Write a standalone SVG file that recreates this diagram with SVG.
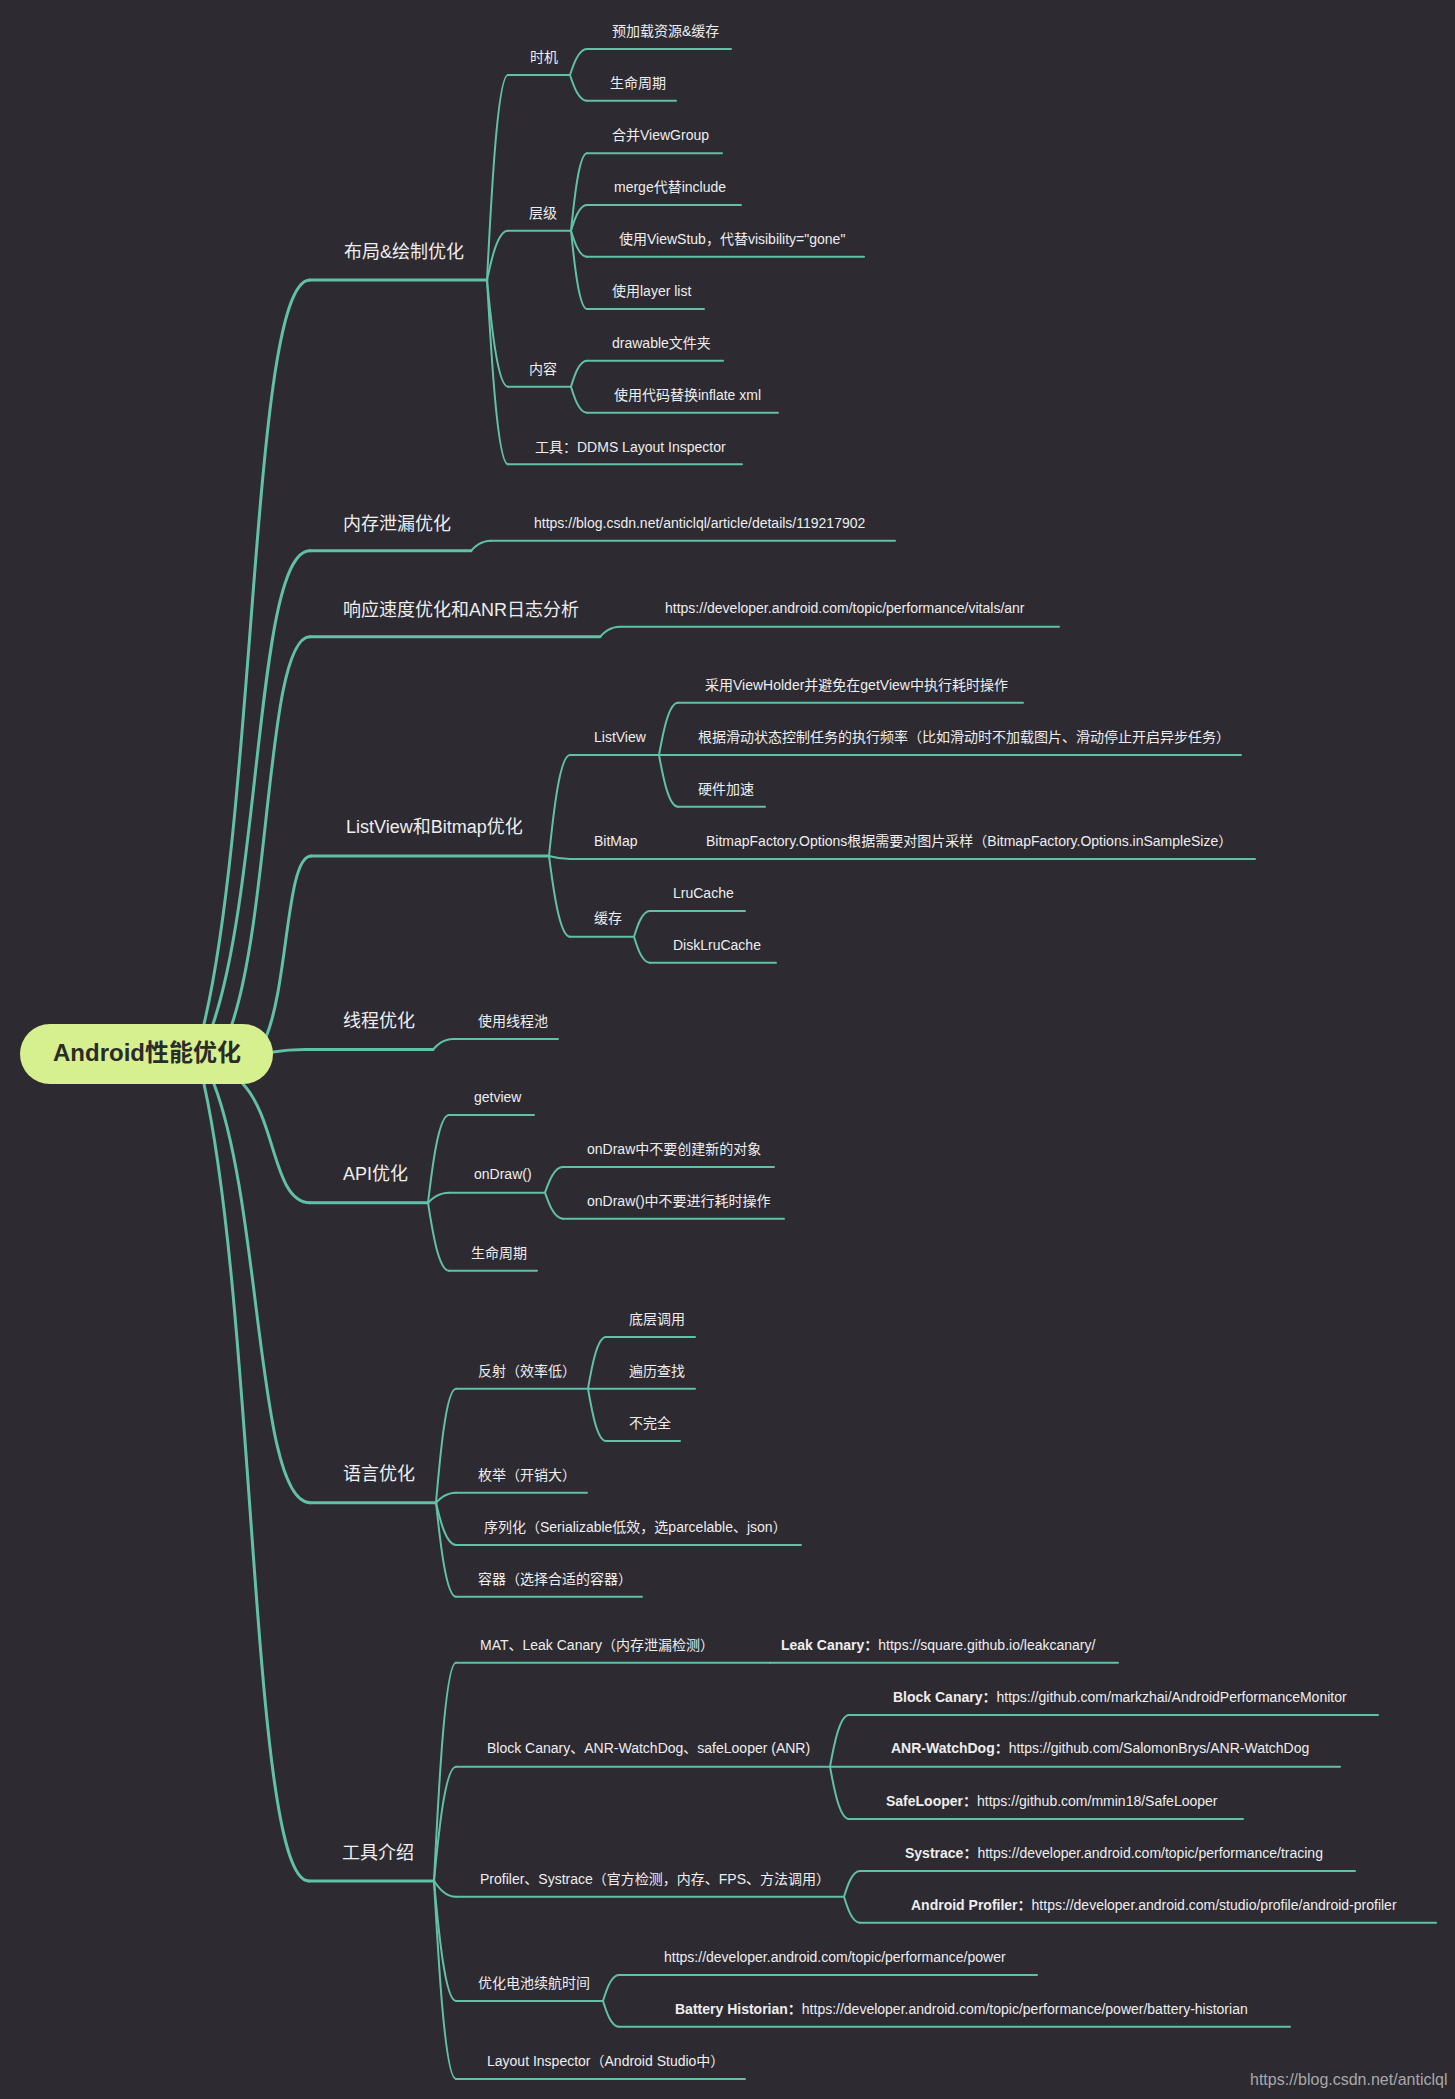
<svg xmlns="http://www.w3.org/2000/svg" width="1455" height="2099" viewBox="0 0 1455 2099">
<style>
.t{font-family:"Liberation Sans","Noto Sans CJK SC",sans-serif;font-size:14px;fill:#eeeeee}
.t1{font-size:18px}
.b{font-weight:bold}
.ln{stroke:#62c0a8;stroke-width:2;fill:none;stroke-linecap:round}
.ln1{stroke-width:3}
.wm{font-family:"Liberation Sans",sans-serif;font-size:16px;fill:#a8a8a8}
</style>
<rect x="0" y="0" width="1455" height="2099" fill="#2d2a32"/>
<g id="connectors">
<path class="ln ln1" d="M204,1024 C257,800.8 251.7,280 310,280"/>
<path class="ln ln1" d="M213,1024 C261.5,882 256.7,550.7 310,550.7"/>
<path class="ln ln1" d="M232,1024 C271,907.8 267.1,636.7 310,636.7"/>
<path class="ln ln1" d="M266,1037 C288.5,982.7 286.3,856 311,856"/>
<path class="ln ln1" d="M273,1052 C285,1050 290,1049.5 305,1049.5"/>
<path class="ln ln1" d="M243,1084 C276.5,1119.6 273.2,1202.7 310,1202.7"/>
<path class="ln ln1" d="M214,1084 C262,1209.6 257.2,1502.7 310,1502.7"/>
<path class="ln ln1" d="M204,1084 C256.5,1323.1 251.3,1881 309,1881"/>
<path class="ln" d="M487,280 C491.2,198 497.5,75 508,75"/>
<path class="ln" d="M487,280 C491.2,260.3 497.5,230.7 508,230.7"/>
<path class="ln" d="M487,280 C491.2,322.7 497.5,386.7 508,386.7"/>
<path class="ln" d="M487,280 C491.2,353.7 497.5,464.3 508,464.3"/>
<path class="ln" d="M570,75 C573.4,64.6 578.5,49 587,49"/>
<path class="ln" d="M570,75 C573.4,85.3 578.5,100.7 587,100.7"/>
<path class="ln" d="M571,230.7 C574.2,199.7 579,153.3 587,153.3"/>
<path class="ln" d="M571,230.7 C574.2,220.4 579,205 587,205"/>
<path class="ln" d="M571,230.7 C574.2,241.1 579,256.7 587,256.7"/>
<path class="ln" d="M571,230.7 C574.2,262 579,309 587,309"/>
<path class="ln" d="M571,386.7 C574.2,376.3 579,360.7 587,360.7"/>
<path class="ln" d="M571,386.7 C574.2,397.1 579,412.7 587,412.7"/>
<path class="ln" d="M471,550.7 C475,546.7 481,540.7 491,540.7"/>
<path class="ln" d="M600,636.7 C604,632.7 610,626.7 620,626.7"/>
<path class="ln" d="M549,856 C553.2,815.6 559.5,755 570,755"/>
<path class="ln" d="M549,856 C553.2,857.2 559.5,859 570,859"/>
<path class="ln" d="M549,856 C553.2,888.3 559.5,936.7 570,936.7"/>
<path class="ln" d="M659,755 C662.8,734.1 668.5,702.7 678,702.7"/>
<path class="ln" d="M659,755 C662.8,775.7 668.5,806.7 678,806.7"/>
<path class="ln" d="M634,936.7 C637.2,926.4 642,911 650,911"/>
<path class="ln" d="M634,936.7 C637.2,947.1 642,962.7 650,962.7"/>
<path class="ln" d="M433,1049.5 C437,1045.3 443,1039 453,1039"/>
<path class="ln" d="M428,1202.7 C432.2,1167.6 438.5,1115 449,1115"/>
<path class="ln" d="M428,1202.7 C432.2,1198.7 438.5,1192.7 449,1192.7"/>
<path class="ln" d="M428,1202.7 C432.2,1229.9 438.5,1270.7 449,1270.7"/>
<path class="ln" d="M545,1192.7 C548.6,1182.4 554,1167 563,1167"/>
<path class="ln" d="M545,1192.7 C548.6,1203.1 554,1218.7 563,1218.7"/>
<path class="ln" d="M436,1502.7 C440,1457.1 446,1388.7 456,1388.7"/>
<path class="ln" d="M436,1502.7 C440,1498.7 446,1492.7 456,1492.7"/>
<path class="ln" d="M436,1502.7 C440,1519.6 446,1545 456,1545"/>
<path class="ln" d="M436,1502.7 C440,1540.3 446,1596.7 456,1596.7"/>
<path class="ln" d="M588,1388.7 C591.6,1368 597,1337 606,1337"/>
<path class="ln" d="M588,1388.7 C591.6,1409.6 597,1441 606,1441"/>
<path class="ln" d="M434,1881 C438.4,1793.7 445,1662.7 456,1662.7"/>
<path class="ln" d="M434,1881 C438.4,1835.3 445,1766.7 456,1766.7"/>
<path class="ln" d="M434,1881 C438.4,1887.3 445,1896.7 456,1896.7"/>
<path class="ln" d="M434,1881 C438.4,1929 445,2001 456,2001"/>
<path class="ln" d="M434,1881 C438.4,1960.2 445,2079 456,2079"/>
<path class="ln" d="M830,1766.7 C833.8,1746 839.5,1715 849,1715"/>
<path class="ln" d="M830,1766.7 C833.8,1787.6 839.5,1819 849,1819"/>
<path class="ln" d="M844,1896.7 C847.2,1886.4 852,1871 860,1871"/>
<path class="ln" d="M844,1896.7 C847.2,1907.1 852,1922.7 860,1922.7"/>
<path class="ln" d="M603,2001 C606.2,1990.6 611,1975 619,1975"/>
<path class="ln" d="M603,2001 C606.2,2011.3 611,2026.7 619,2026.7"/>
</g>
<g id="root">
<rect x="20" y="1024" width="253" height="60" rx="30" fill="#d6f08f"/>
<text x="147" y="1061" text-anchor="middle" style="font-family:'Liberation Sans','Noto Sans CJK SC',sans-serif;font-size:24px;font-weight:bold;fill:#2b2b2b">Android性能优化</text>
</g>
<g id="n-layout"><path class="ln ln1" d="M310,280H487"/><text class="t t1" x="344" y="258">布局&amp;绘制优化</text></g>
<g id="n-timing"><path class="ln" d="M508,75H570"/><text class="t" x="530" y="62">时机</text></g>
<g id="n-preload"><path class="ln" d="M587,49H731"/><text class="t" x="612" y="36">预加载资源&amp;缓存</text></g>
<g id="n-lifecycle1"><path class="ln" d="M587,100.7H676"/><text class="t" x="610" y="88">生命周期</text></g>
<g id="n-level"><path class="ln" d="M508,230.7H571"/><text class="t" x="529" y="218">层级</text></g>
<g id="n-merge-vg"><path class="ln" d="M587,153.3H722"/><text class="t" x="612" y="140">合并ViewGroup</text></g>
<g id="n-merge"><path class="ln" d="M587,205H741"/><text class="t" x="614" y="192">merge代替include</text></g>
<g id="n-viewstub"><path class="ln" d="M587,256.7H864"/><text class="t" x="619" y="244">使用ViewStub，代替visibility="gone"</text></g>
<g id="n-layerlist"><path class="ln" d="M587,309H704"/><text class="t" x="612" y="296">使用layer list</text></g>
<g id="n-content"><path class="ln" d="M508,386.7H571"/><text class="t" x="529" y="374">内容</text></g>
<g id="n-drawable"><path class="ln" d="M587,360.7H723"/><text class="t" x="612" y="348">drawable文件夹</text></g>
<g id="n-inflate"><path class="ln" d="M587,412.7H778"/><text class="t" x="614" y="400">使用代码替换inflate xml</text></g>
<g id="n-ddms"><path class="ln" d="M508,464.3H742"/><text class="t" x="535" y="452">工具：DDMS Layout Inspector</text></g>

<g id="n-leak"><path class="ln ln1" d="M310,550.7H471"/><text class="t t1" x="343" y="530">内存泄漏优化</text></g>
<g id="n-leak-url"><path class="ln" d="M491,540.7H895"/><text class="t" x="534" y="528">https://blog.csdn.net/anticlql/article/details/119217902</text></g>

<g id="n-anr"><path class="ln ln1" d="M310,636.7H600"/><text class="t t1" x="343" y="616">响应速度优化和ANR日志分析</text></g>
<g id="n-anr-url"><path class="ln" d="M620,626.7H1059"/><text class="t" x="665" y="613">https://developer.android.com/topic/performance/vitals/anr</text></g>

<g id="n-listbitmap"><path class="ln ln1" d="M311,856H549"/><text class="t t1" x="346" y="833">ListView和Bitmap优化</text></g>
<g id="n-listview"><path class="ln" d="M570,755H659"/><text class="t" x="594" y="742">ListView</text></g>
<g id="n-viewholder"><path class="ln" d="M678,702.7H1023"/><text class="t" x="705" y="690">采用ViewHolder并避免在getView中执行耗时操作</text></g>
<g id="n-scroll"><path class="ln" d="M659,755H1241"/><text class="t" x="698" y="742">根据滑动状态控制任务的执行频率（比如滑动时不加载图片、滑动停止开启异步任务）</text></g>
<g id="n-hw"><path class="ln" d="M678,806.7H765"/><text class="t" x="698" y="794">硬件加速</text></g>
<g id="n-bitmap"><path class="ln" d="M570,859H690"/><text class="t" x="594" y="846">BitMap</text></g>
<g id="n-bitmap-opt"><path class="ln" d="M690,859H1255"/><text class="t" x="706" y="846">BitmapFactory.Options根据需要对图片采样（BitmapFactory.Options.inSampleSize）</text></g>
<g id="n-cache"><path class="ln" d="M570,936.7H634"/><text class="t" x="594" y="923">缓存</text></g>
<g id="n-lru"><path class="ln" d="M650,911H745"/><text class="t" x="673" y="898">LruCache</text></g>
<g id="n-disklru"><path class="ln" d="M650,962.7H776"/><text class="t" x="673" y="950">DiskLruCache</text></g>

<g id="n-thread"><path class="ln ln1" d="M305,1049.5H433"/><text class="t t1" x="343" y="1027">线程优化</text></g>
<g id="n-pool"><path class="ln" d="M453,1039H558"/><text class="t" x="478" y="1026">使用线程池</text></g>

<g id="n-api"><path class="ln ln1" d="M310,1202.7H428"/><text class="t t1" x="343" y="1180">API优化</text></g>
<g id="n-getview"><path class="ln" d="M449,1115H534"/><text class="t" x="474" y="1102">getview</text></g>
<g id="n-ondraw"><path class="ln" d="M449,1192.7H545"/><text class="t" x="474" y="1179">onDraw()</text></g>
<g id="n-ondraw1"><path class="ln" d="M563,1167H774"/><text class="t" x="587" y="1154">onDraw中不要创建新的对象</text></g>
<g id="n-ondraw2"><path class="ln" d="M563,1218.7H784"/><text class="t" x="587" y="1206">onDraw()中不要进行耗时操作</text></g>
<g id="n-lifecycle2"><path class="ln" d="M449,1270.7H537"/><text class="t" x="471" y="1258">生命周期</text></g>

<g id="n-lang"><path class="ln ln1" d="M310,1502.7H436"/><text class="t t1" x="343" y="1480">语言优化</text></g>
<g id="n-reflect"><path class="ln" d="M456,1388.7H588"/><text class="t" x="478" y="1376">反射（效率低）</text></g>
<g id="n-native"><path class="ln" d="M606,1337H695"/><text class="t" x="629" y="1324">底层调用</text></g>
<g id="n-traverse"><path class="ln" d="M588,1388.7H695"/><text class="t" x="629" y="1376">遍历查找</text></g>
<g id="n-incomplete"><path class="ln" d="M606,1441H680"/><text class="t" x="629" y="1428">不完全</text></g>
<g id="n-enum"><path class="ln" d="M456,1492.7H587"/><text class="t" x="478" y="1480">枚举（开销大）</text></g>
<g id="n-serial"><path class="ln" d="M456,1545H801"/><text class="t" x="484" y="1532">序列化（Serializable低效，选parcelable、json）</text></g>
<g id="n-container"><path class="ln" d="M456,1596.7H642"/><text class="t" x="478" y="1584">容器（选择合适的容器）</text></g>

<g id="n-tools"><path class="ln ln1" d="M309,1881H434"/><text class="t t1" x="342" y="1859">工具介绍</text></g>
<g id="n-mat"><path class="ln" d="M456,1662.7H770"/><text class="t" x="480" y="1650">MAT、Leak Canary（内存泄漏检测）</text></g>
<g id="n-leakcanary"><path class="ln" d="M770,1662.7H1118"/><text class="t" x="781" y="1650"><tspan class="b">Leak Canary：</tspan>https://square.github.io/leakcanary/</text></g>
<g id="n-blockgroup"><path class="ln" d="M456,1766.7H830"/><text class="t" x="487" y="1753">Block Canary、ANR-WatchDog、safeLooper (ANR)</text></g>
<g id="n-blockcanary"><path class="ln" d="M849,1715H1378"/><text class="t" x="893" y="1702"><tspan class="b">Block Canary：</tspan>https://github.com/markzhai/AndroidPerformanceMonitor</text></g>
<g id="n-watchdog"><path class="ln" d="M830,1766.7H1340"/><text class="t" x="891" y="1753"><tspan class="b">ANR-WatchDog：</tspan>https://github.com/SalomonBrys/ANR-WatchDog</text></g>
<g id="n-safelooper"><path class="ln" d="M849,1819H1243"/><text class="t" x="886" y="1806"><tspan class="b">SafeLooper：</tspan>https://github.com/mmin18/SafeLooper</text></g>
<g id="n-profiler"><path class="ln" d="M456,1896.7H844"/><text class="t" x="480" y="1884">Profiler、Systrace（官方检测，内存、FPS、方法调用）</text></g>
<g id="n-systrace"><path class="ln" d="M860,1871H1355"/><text class="t" x="905" y="1858"><tspan class="b">Systrace：</tspan>https://developer.android.com/topic/performance/tracing</text></g>
<g id="n-aprofiler"><path class="ln" d="M860,1922.7H1436"/><text class="t" x="911" y="1910"><tspan class="b">Android Profiler：</tspan>https://developer.android.com/studio/profile/android-profiler</text></g>
<g id="n-battery"><path class="ln" d="M456,2001H603"/><text class="t" x="478" y="1988">优化电池续航时间</text></g>
<g id="n-power"><path class="ln" d="M619,1975H1037"/><text class="t" x="664" y="1962">https://developer.android.com/topic/performance/power</text></g>
<g id="n-historian"><path class="ln" d="M619,2026.7H1290"/><text class="t" x="675" y="2014"><tspan class="b">Battery Historian：</tspan>https://developer.android.com/topic/performance/power/battery-historian</text></g>
<g id="n-layoutinspector"><path class="ln" d="M456,2079H745"/><text class="t" x="487" y="2066">Layout Inspector（Android Studio中）</text></g>
<text class="wm" x="1250" y="2085">https://blog.csdn.net/anticlql</text>
</svg>
